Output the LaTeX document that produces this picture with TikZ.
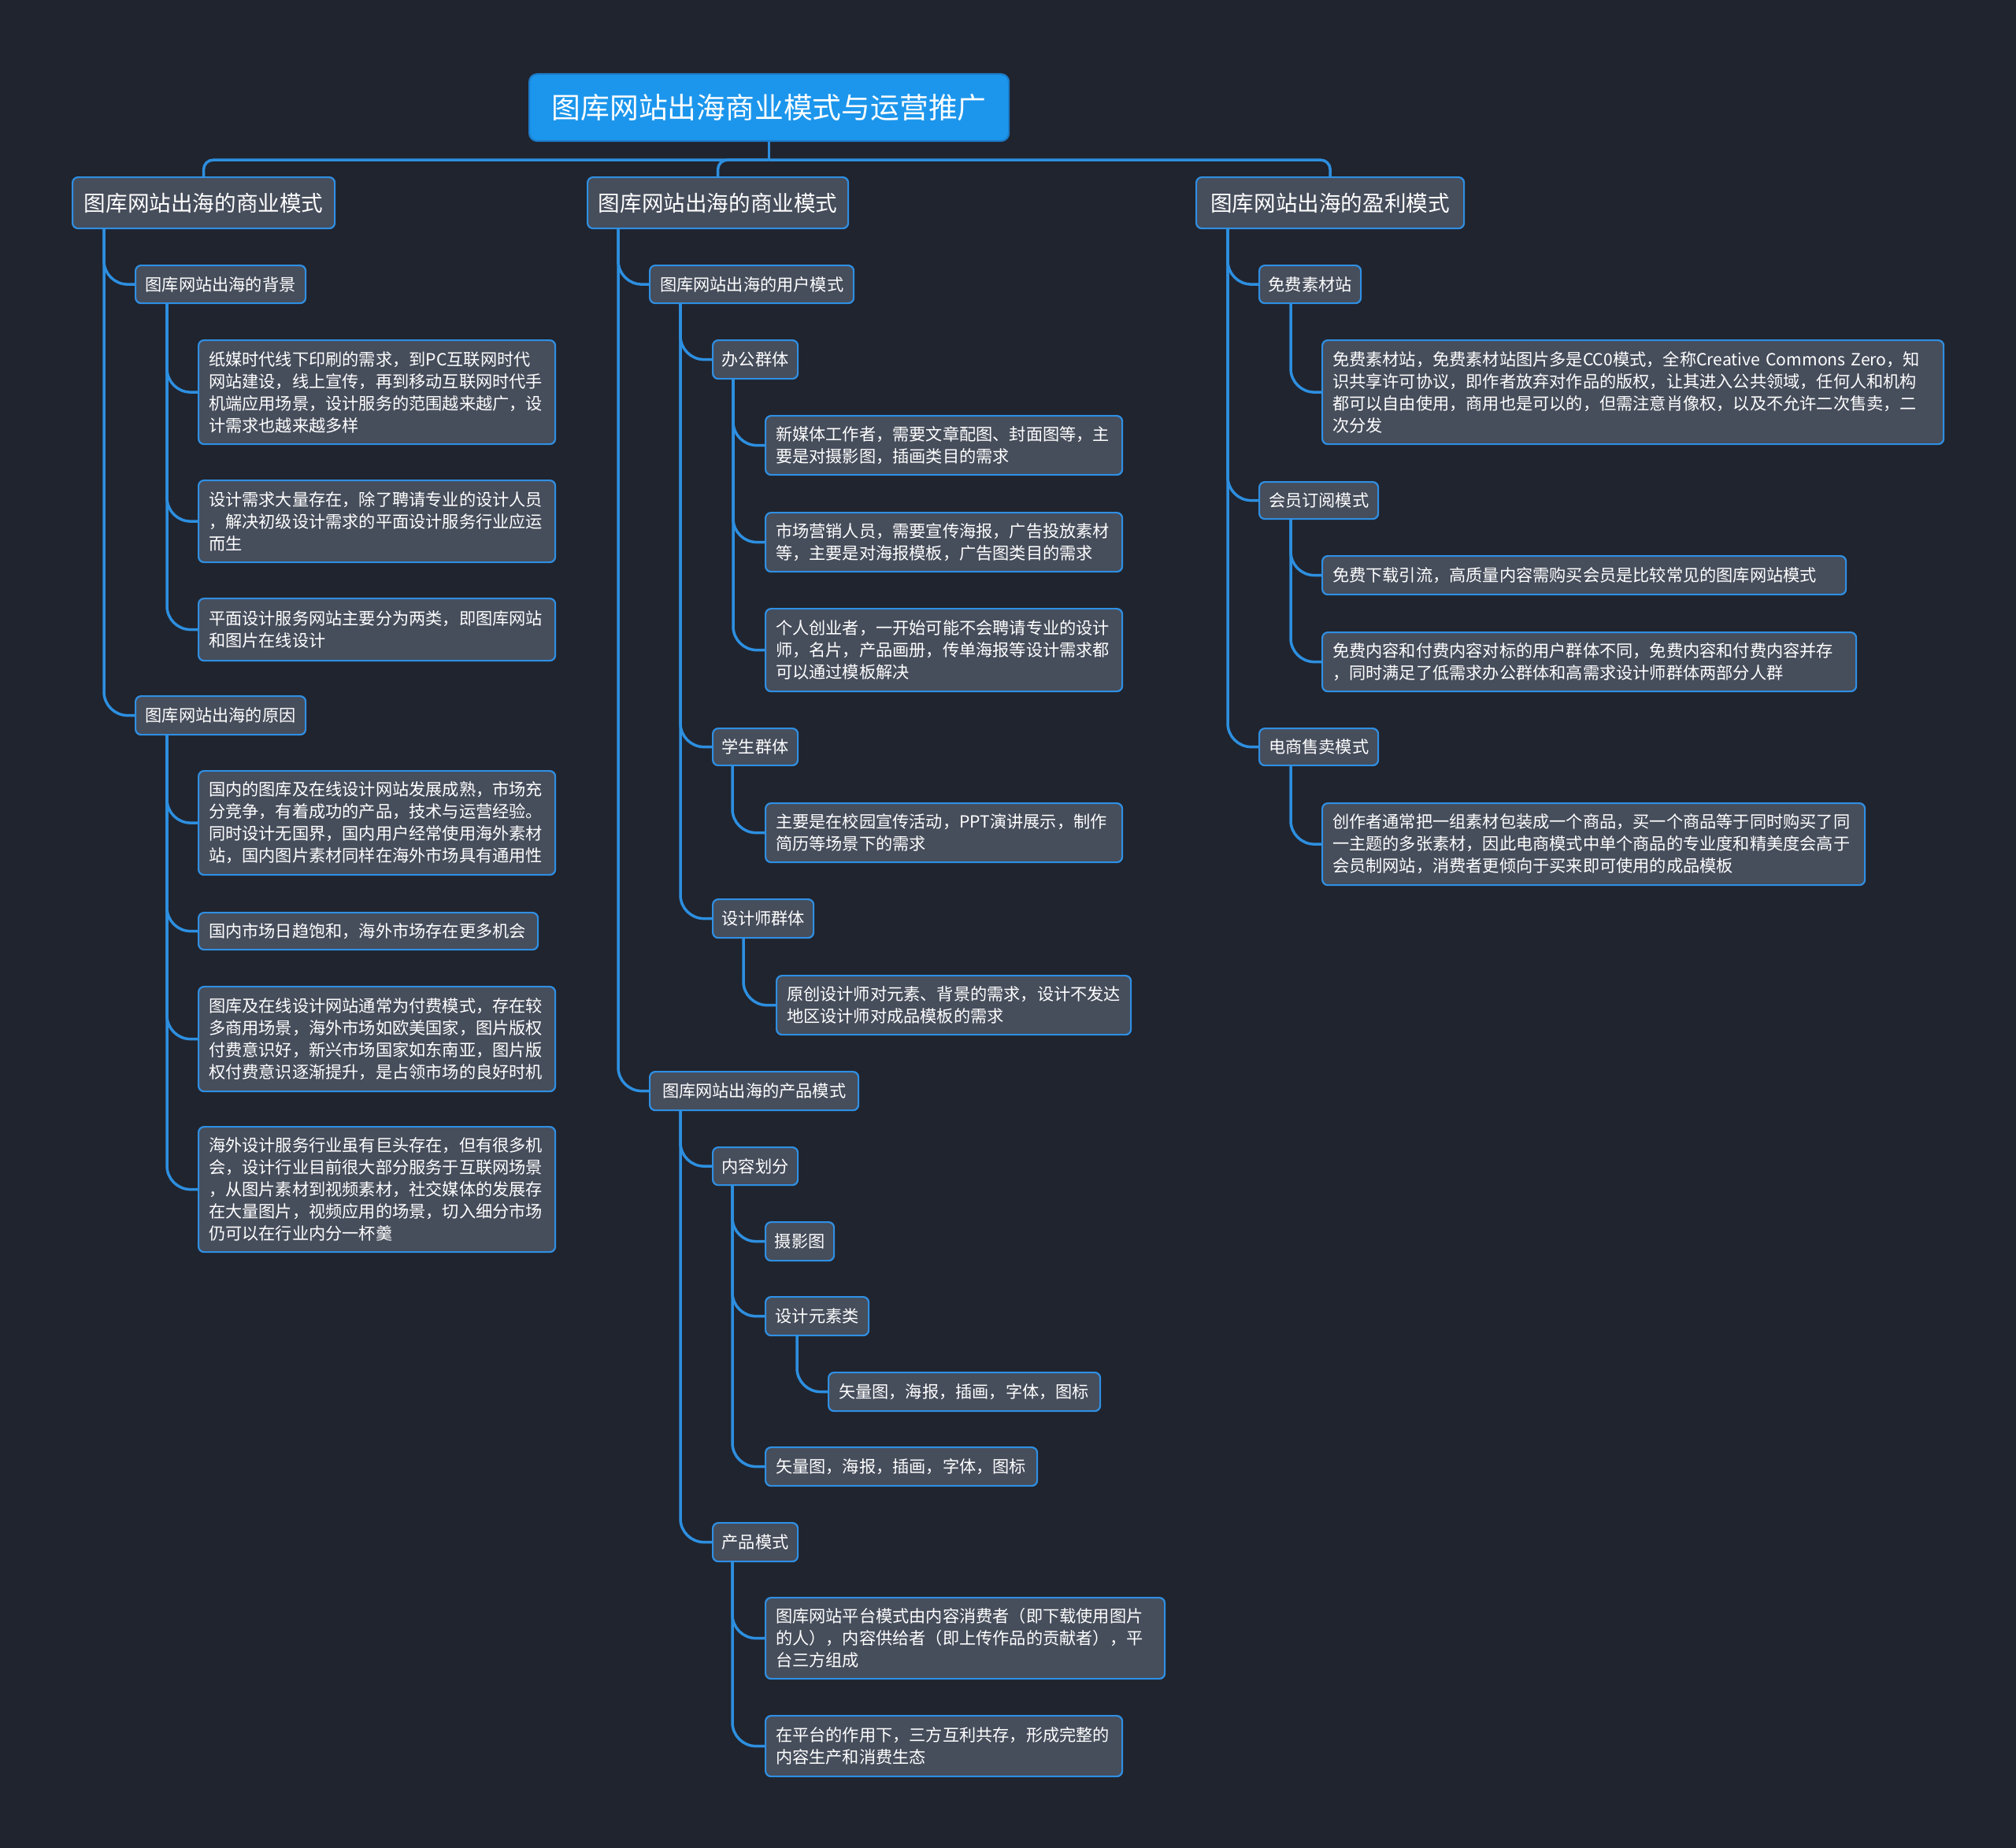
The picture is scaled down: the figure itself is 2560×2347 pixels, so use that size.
\documentclass[tikz,border=0pt]{standalone}
\usepackage{fontspec}
\setmainfont{Noto Sans CJK SC}
\usetikzlibrary{calc}
\definecolor{bgcol}{HTML}{20242E}
\definecolor{nodefill}{HTML}{464D5B}
\definecolor{nodeline}{HTML}{2F8FE3}
\definecolor{linecol}{HTML}{2D8FE0}
\definecolor{rootfill}{HTML}{1C96EC}
\definecolor{rootline}{HTML}{1B7CCB}
\pgfdeclarelayer{bglayer}
\pgfdeclarelayer{linelayer}
\pgfsetlayers{bglayer,linelayer,main}
\tikzset{
  base/.style={draw=nodeline, line width=2.2pt, fill=nodefill, rounded corners=7pt, text=white, anchor=north west, inner sep=0pt},
  lvltop/.style={base, font=\fontsize{27.6pt}{33pt}\selectfont},
  lvl/.style={base, font=\fontsize{21.2pt}{28pt}\selectfont},
  leaf/.style={lvl, align=left},
  conn/.style={draw=linecol, line width=3.5pt, rounded corners=30pt},
  rootconn/.style={draw=linecol, line width=3.5pt, rounded corners=12pt},
}
\newcommand\treeedge[3]{\draw[conn] ($(#1.south west)+(#2,0)$) |- (#3.west);}
\begin{document}
\begin{tikzpicture}[x=1pt,y=-1pt]
\useasboundingbox (0,0) rectangle (2560,2347);
\begin{pgfonlayer}{bglayer}
\fill[bgcol] (0,0) rectangle (2560,2347);
\end{pgfonlayer}

% root
\node[base, fill=rootfill, draw=rootline, rounded corners=10pt, font=\fontsize{36.8pt}{44pt}\selectfont, minimum width=609pt, minimum height=85pt] (root) at (671,93) {图库网站出海商业模式与运营推广};

% level 1
\node[lvltop, minimum width=333pt, minimum height=65pt] (l1a) at (91,224) {图库网站出海的商业模式};
\node[lvltop, minimum width=331pt, minimum height=65pt] (l1b) at (745,224) {图库网站出海的商业模式};
\node[lvltop, minimum width=340pt, minimum height=65pt] (l1c) at (1518,224) {图库网站出海的盈利模式};

% left branch
\node[lvl, minimum width=216pt, minimum height=48pt] (a1) at (171,336) {图库网站出海的背景};
\node[leaf, minimum width=453pt, minimum height=132pt, text width=427pt] (a1a) at (251,431) {纸媒时代线下印刷的需求，到PC互联网时代\\网站建设，线上宣传，再到移动互联网时代手\\机端应用场景，设计服务的范围越来越广，设\\计需求也越来越多样};
\node[leaf, minimum width=453pt, minimum height=104pt, text width=427pt] (a1b) at (251,609) {设计需求大量存在，除了聘请专业的设计人员\\，解决初级设计需求的平面设计服务行业应运\\而生};
\node[leaf, minimum width=453pt, minimum height=79pt, text width=427pt] (a1c) at (251,759) {平面设计服务网站主要分为两类，即图库网站\\和图片在线设计};
\node[lvl, minimum width=216pt, minimum height=49pt] (a2) at (171,883) {图库网站出海的原因};
\node[leaf, minimum width=453pt, minimum height=132pt, text width=427pt] (a2a) at (251,978) {国内的图库及在线设计网站发展成熟，市场充\\分竞争，有着成功的产品，技术与运营经验。\\同时设计无国界，国内用户经常使用海外素材\\站，国内图片素材同样在海外市场具有通用性};
\node[leaf, minimum width=431pt, minimum height=47pt, text width=405pt] (a2b) at (251,1158) {国内市场日趋饱和，海外市场存在更多机会};
\node[leaf, minimum width=453pt, minimum height=133pt, text width=427pt] (a2c) at (251,1252) {图库及在线设计网站通常为付费模式，存在较\\多商用场景，海外市场如欧美国家，图片版权\\付费意识好，新兴市场国家如东南亚，图片版\\权付费意识逐渐提升，是占领市场的良好时机};
\node[leaf, minimum width=453pt, minimum height=159pt, text width=427pt] (a2d) at (251,1430) {海外设计服务行业虽有巨头存在，但有很多机\\会，设计行业目前很大部分服务于互联网场景\\，从图片素材到视频素材，社交媒体的发展存\\在大量图片，视频应用的场景，切入细分市场\\仍可以在行业内分一杯羹};

% middle branch
\node[lvl, minimum width=259pt, minimum height=48pt] (b1) at (824,336) {图库网站出海的用户模式};
\node[lvl, minimum width=108pt, minimum height=49pt] (b1a) at (904,431) {办公群体};
\node[leaf, minimum width=453pt, minimum height=75pt, text width=427pt] (b1a1) at (971,527) {新媒体工作者，需要文章配图、封面图等，主\\要是对摄影图，插画类目的需求};
\node[leaf, minimum width=453pt, minimum height=75pt, text width=427pt] (b1a2) at (971,650) {市场营销人员，需要宣传海报，广告投放素材\\等，主要是对海报模板，广告图类目的需求};
\node[leaf, minimum width=453pt, minimum height=105pt, text width=427pt] (b1a3) at (971,772) {个人创业者，一开始可能不会聘请专业的设计\\师，名片，产品画册，传单海报等设计需求都\\可以通过模板解决};
\node[lvl, minimum width=108pt, minimum height=47pt] (b1b) at (904,924) {学生群体};
\node[leaf, minimum width=453pt, minimum height=75pt, text width=427pt] (b1b1) at (971,1019) {主要是在校园宣传活动，PPT演讲展示，制作\\简历等场景下的需求};
\node[lvl, minimum width=128pt, minimum height=49pt] (b1c) at (904,1141) {设计师群体};
\node[leaf, minimum width=450pt, minimum height=75pt, text width=424pt] (b1c1) at (985,1238) {原创设计师对元素、背景的需求，设计不发达\\地区设计师对成品模板的需求};
\node[lvl, minimum width=265pt, minimum height=49pt] (b2) at (824,1360) {图库网站出海的产品模式};
\node[lvl, minimum width=108pt, minimum height=48pt] (b2a) at (904,1456) {内容划分};
\node[lvl, minimum width=87pt, minimum height=49pt] (b2a1) at (971,1551) {摄影图};
\node[lvl, minimum width=131pt, minimum height=49pt] (b2a2) at (971,1646) {设计元素类};
\node[leaf, minimum width=345pt, minimum height=49pt, text width=319pt] (b2a2a) at (1051,1742) {矢量图，海报，插画，字体，图标};
\node[leaf, minimum width=345pt, minimum height=49pt, text width=319pt] (b2a3) at (971,1837) {矢量图，海报，插画，字体，图标};
\node[lvl, minimum width=108pt, minimum height=49pt] (b2b) at (904,1933) {产品模式};
\node[leaf, minimum width=507pt, minimum height=103pt, text width=481pt] (b2b1) at (971,2028) {图库网站平台模式由内容消费者（即下载使用图片\\的人），内容供给者（即上传作品的贡献者），平\\台三方组成};
\node[leaf, minimum width=453pt, minimum height=77pt, text width=427pt] (b2b2) at (971,2178) {在平台的作用下，三方互利共存，形成完整的\\内容生产和消费生态};

% right branch
\node[lvl, minimum width=129pt, minimum height=48pt] (c1) at (1598,336) {免费素材站};
\node[leaf, minimum width=789pt, minimum height=132pt, text width=763pt] (c1a) at (1678,431) {免费素材站，免费素材站图片多是CC0模式，全称Creative~Commons~Zero，知\\识共享许可协议，即作者放弃对作品的版权，让其进入公共领域，任何人和机构\\都可以自由使用，商用也是可以的，但需注意肖像权，以及不允许二次售卖，二\\次分发};
\node[lvl, minimum width=151pt, minimum height=47pt] (c2) at (1598,611) {会员订阅模式};
\node[leaf, minimum width=665pt, minimum height=49pt, text width=639pt] (c2a) at (1678,705) {免费下载引流，高质量内容需购买会员是比较常见的图库网站模式};
\node[leaf, minimum width=678pt, minimum height=75pt, text width=652pt] (c2b) at (1678,802) {免费内容和付费内容对标的用户群体不同，免费内容和付费内容并存\\，同时满足了低需求办公群体和高需求设计师群体两部分人群};
\node[lvl, minimum width=151pt, minimum height=47pt] (c3) at (1598,924) {电商售卖模式};
\node[leaf, minimum width=689pt, minimum height=104pt, text width=663pt] (c3a) at (1678,1019) {创作者通常把一组素材包装成一个商品，买一个商品等于同时购买了同\\一主题的多张素材，因此电商模式中单个商品的专业度和精美度会高于\\会员制网站，消费者更倾向于买来即可使用的成品模板};

% connectors
\begin{pgfonlayer}{linelayer}
\coordinate (hub) at ($(root.south)+(0,23)$);
\draw[rootconn] (root.south) -- (hub);
\draw[rootconn] (hub) -| (l1a.north);
\draw[rootconn] (hub) -| (l1b.north);
\draw[rootconn] (hub) -| (l1c.north);
\treeedge{l1a}{41}{a1}
\treeedge{l1a}{41}{a2}
\treeedge{a1}{41}{a1a}
\treeedge{a1}{41}{a1b}
\treeedge{a1}{41}{a1c}
\treeedge{a2}{41}{a2a}
\treeedge{a2}{41}{a2b}
\treeedge{a2}{41}{a2c}
\treeedge{a2}{41}{a2d}
\treeedge{l1b}{40}{b1}
\treeedge{l1b}{40}{b2}
\treeedge{b1}{40}{b1a}
\treeedge{b1}{40}{b1b}
\treeedge{b1}{40}{b1c}
\treeedge{b1a}{27}{b1a1}
\treeedge{b1a}{27}{b1a2}
\treeedge{b1a}{27}{b1a3}
\treeedge{b1b}{26}{b1b1}
\treeedge{b1c}{40}{b1c1}
\treeedge{b2}{40}{b2a}
\treeedge{b2}{40}{b2b}
\treeedge{b2a}{26}{b2a1}
\treeedge{b2a}{26}{b2a2}
\treeedge{b2a}{26}{b2a3}
\treeedge{b2a2}{41}{b2a2a}
\treeedge{b2b}{26}{b2b1}
\treeedge{b2b}{26}{b2b2}
\treeedge{l1c}{41}{c1}
\treeedge{l1c}{41}{c2}
\treeedge{l1c}{41}{c3}
\treeedge{c1}{41}{c1a}
\treeedge{c2}{41}{c2a}
\treeedge{c2}{41}{c2b}
\treeedge{c3}{41}{c3a}
\end{pgfonlayer}
\end{tikzpicture}
\end{document}
